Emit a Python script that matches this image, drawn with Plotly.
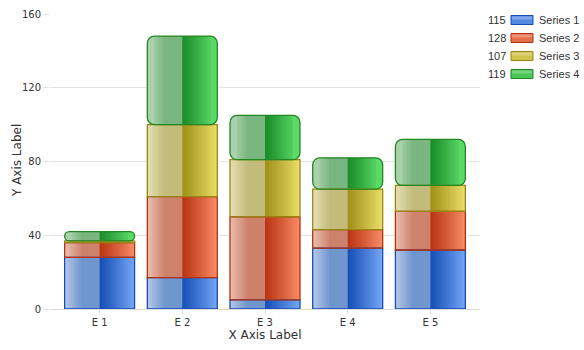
import plotly.graph_objects as go

# ---- data ----
categories = ["E 1", "E 2", "E 3", "E 4", "E 5"]
series_names = ["Series 1", "Series 2", "Series 3", "Series 4"]
series_1 = [28, 17, 5, 33, 32]
series_2 = [8, 44, 45, 10, 21]
series_3 = [1, 39, 31, 22, 14]
series_4 = [5, 48, 24, 17, 25]
y_ticks = [0, 40, 80, 120, 160]

series_values = [series_1, series_2, series_3, series_4]

# ---- glass-style palette per series: left light, left muted, right dark, right light, border ----
palettes = [
    ((182, 200, 232), (112, 150, 206), (22, 80, 182), (118, 168, 246), "rgb(25,75,185)"),
    ((234, 192, 178), (206, 130, 108), (186, 52, 18), (250, 142, 104), "rgb(182,50,10)"),
    ((230, 224, 180), (194, 187, 122), (160, 145, 25), (236, 224, 104), "rgb(150,135,20)"),
    ((182, 216, 182), (122, 182, 128), (26, 140, 40), (100, 228, 112), "rgb(35,135,35)"),
]

BAR_W = 0.846
N_SLICES = 30
EDGE = 3          # slices covered by the rounded corner pieces of the top series
CORNER = 7        # corner radius (px) of the top series

FONT = "DejaVu Sans, Verdana, sans-serif"
TEXT = "#333333"


def mix(a, b, t):
    return "rgb(%d,%d,%d)" % tuple(round(a[i] + (b[i] - a[i]) * t) for i in range(3))


def slice_color(pal, t):
    l_light, l_mid, r_dark, r_light, _ = pal
    if t < 0.5:
        u = t / 0.5
        return mix(l_light, l_mid, min(u / 0.5, 1.0))
    u = (t - 0.5) / 0.5
    return mix(r_dark, r_light, u ** 1.1)


fig = go.Figure()

# stacked bases computed from the series values
bases = []
running = [0] * len(categories)
for vals in series_values:
    bases.append(list(running))
    running = [r + v for r, v in zip(running, vals)]

sw = BAR_W / N_SLICES


def add_slice(vals, base, left, right, color, radius=0):
    fig.add_trace(go.Bar(
        x=categories, y=vals, base=base,
        width=right - left, offset=-BAR_W / 2 + left,
        marker=dict(color=color, line=dict(width=0), cornerradius=radius),
        showlegend=False, hoverinfo="skip",
    ))


# gradient fill drawn as thin overlapping vertical slices of each stacked segment
for k, (vals, base) in enumerate(zip(series_values, bases)):
    pal = palettes[k]
    top = (k == len(series_values) - 1)
    j_start, j_end = 0, N_SLICES
    if top:
        # rounded corner pieces first, the square slices go on top of their inner halves
        add_slice(vals, base, 0, 2 * EDGE * sw,
                  slice_color(pal, (EDGE / 2) / N_SLICES), CORNER)
        add_slice(vals, base, BAR_W - 2 * EDGE * sw, BAR_W,
                  slice_color(pal, 1 - (EDGE / 2) / N_SLICES), CORNER)
        j_start, j_end = EDGE, N_SLICES - EDGE
    limit = j_end * sw
    for j in range(j_start, j_end):
        t = (j + 0.5) / N_SLICES
        left = j * sw
        right = min(left + 2 * sw, limit)
        add_slice(vals, base, left, right, slice_color(pal, t))

# segment outlines
for k, (vals, base) in enumerate(zip(series_values, bases)):
    fig.add_trace(go.Bar(
        x=categories, y=vals, base=base, width=BAR_W, offset=-BAR_W / 2,
        name=series_names[k],
        marker=dict(color="rgba(0,0,0,0)", line=dict(color=palettes[k][4], width=1.3),
                    cornerradius=CORNER if k == len(series_values) - 1 else 0),
        showlegend=False,
    ))

# ---- legend: totals, swatches and names ----
L, R, T, B = 50, 104, 14, 41
W, H = 584 - L - R, 350 - T - B


def px(x):
    return (x - L) / W


def py(y):
    return (350 - B - y) / H


shapes = []
annotations = []
for k, name in enumerate(series_names):
    yc = 20 + 18 * k
    pal = palettes[k]
    shapes.append(dict(
        type="rect", xref="paper", yref="paper",
        x0=px(511), x1=px(533), y0=py(yc + 4.5), y1=py(yc - 4.5),
        fillcolor=mix(pal[3], pal[2], 0.35), line=dict(color=pal[4], width=1),
    ))
    shapes.append(dict(
        type="rect", xref="paper", yref="paper",
        x0=px(512), x1=px(532), y0=py(yc - 0.5), y1=py(yc - 3.5),
        fillcolor="rgba(255,255,255,0.25)", line=dict(width=0),
    ))
    annotations.append(dict(
        xref="paper", yref="paper", x=px(508), y=py(yc), xanchor="right", yanchor="middle",
        text=str(sum(series_values[k])), showarrow=False,
        font=dict(family="Liberation Sans, Arial, sans-serif", size=11, color=TEXT),
    ))
    annotations.append(dict(
        xref="paper", yref="paper", x=px(537), y=py(yc), xanchor="left", yanchor="middle",
        text=name, showarrow=False,
        font=dict(family="Liberation Sans, Arial, sans-serif", size=11, color=TEXT),
    ))

# y axis title
annotations.append(dict(
    xref="paper", yref="paper", x=px(17), y=py(161), xanchor="center", yanchor="middle",
    text="Y Axis Label", textangle=-90, showarrow=False,
    font=dict(family=FONT, size=12, color=TEXT),
))

fig.update_layout(
    width=584, height=350,
    margin=dict(l=L, r=R, t=T, b=B, autoexpand=False),
    paper_bgcolor="white", plot_bgcolor="white",
    barmode="overlay",
    showlegend=False,
    font=dict(family=FONT, size=10, color=TEXT),
    shapes=shapes, annotations=annotations,
    xaxis=dict(
        range=[-0.6, 4.6], showgrid=False, automargin=False,
        showline=True, linecolor="#dddddd", linewidth=1,
        ticks="outside", ticklen=4, tickcolor="#dddddd",
        ticklabelstandoff=0,
        title=dict(text="X Axis Label", standoff=1,
                   font=dict(family=FONT, size=12, color=TEXT)),
        tickfont=dict(size=10, color=TEXT),
    ),
    yaxis=dict(
        range=[0, 160], tickvals=y_ticks, automargin=False,
        showgrid=True, gridcolor="#e3e3e3", gridwidth=1,
        zeroline=False, showline=False,
        ticks="outside", ticklen=6, tickcolor="#e3e3e3",
        tickfont=dict(size=10, color=TEXT),
    ),
)

fig.write_html("out.html")
